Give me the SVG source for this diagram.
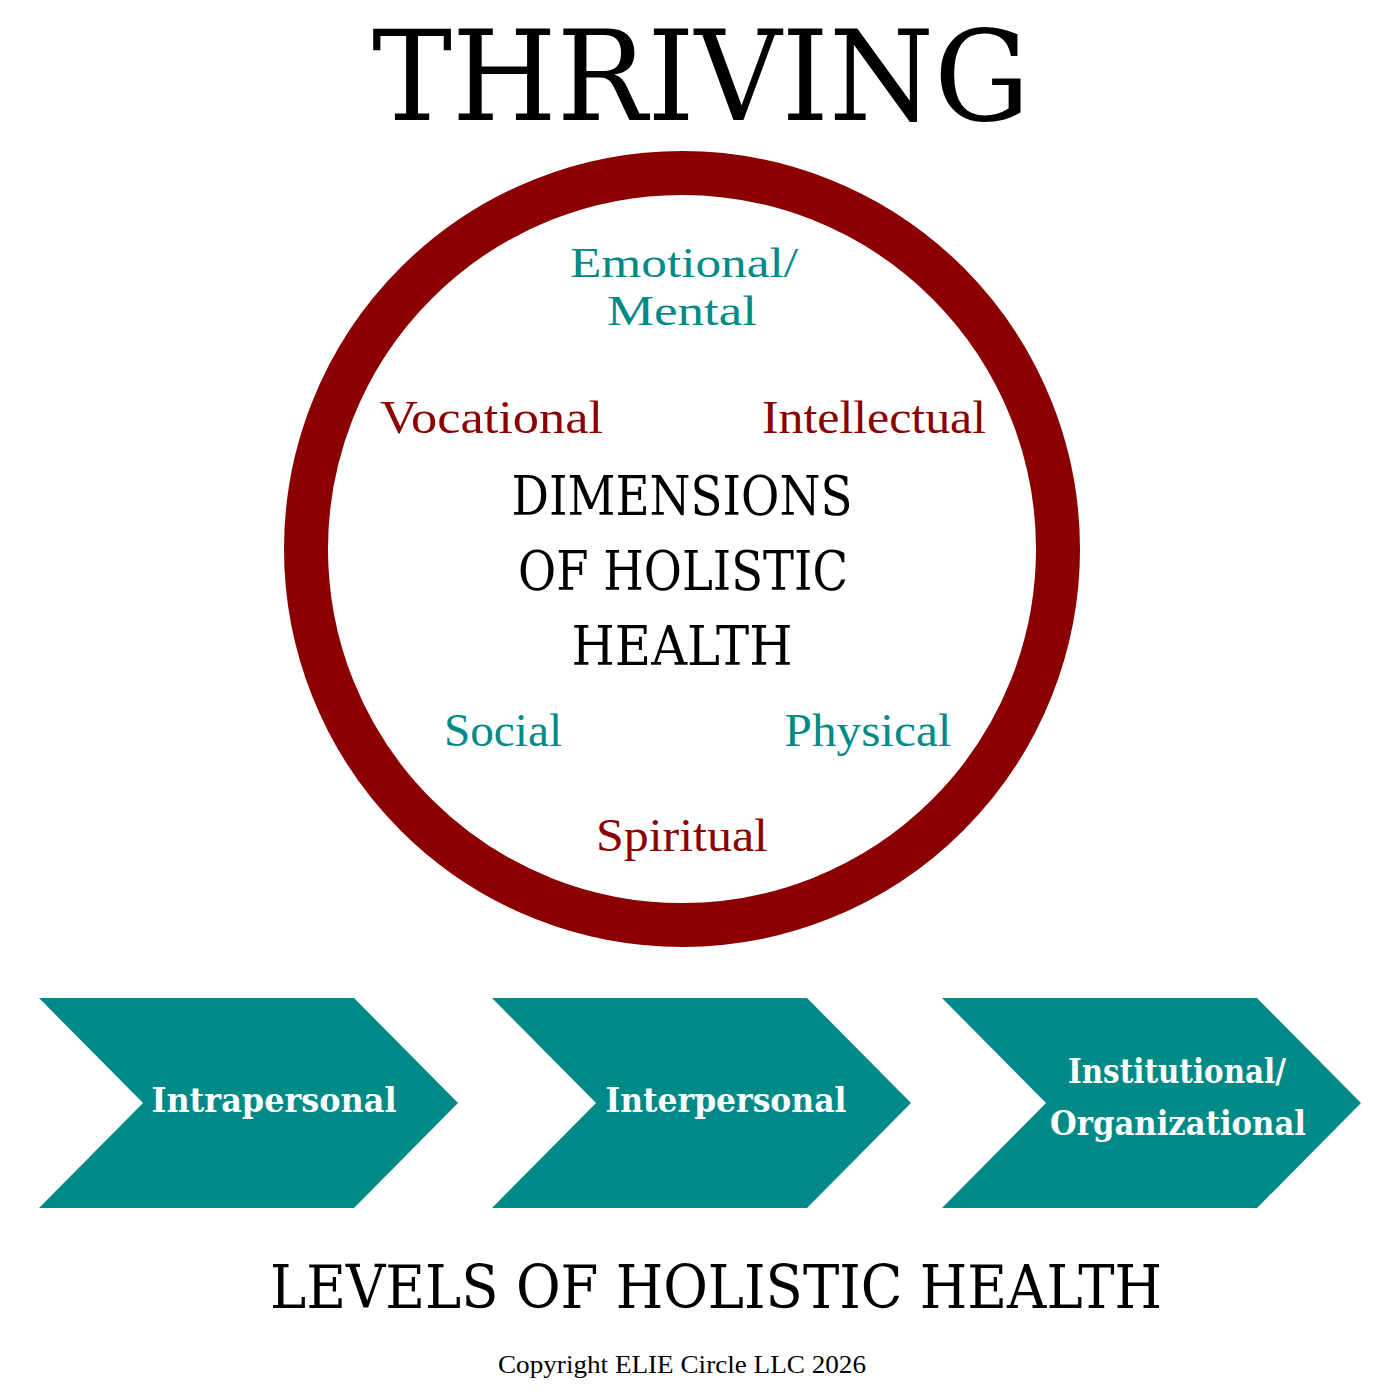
<svg xmlns="http://www.w3.org/2000/svg" width="1400" height="1400" viewBox="0 0 1400 1400">
<style>
.title{font-family:"DejaVu Serif","Liberation Serif",serif;font-weight:normal;fill:#000;text-anchor:middle}
.mid{font-family:"DejaVu Serif","Liberation Serif",serif;font-weight:normal;fill:#000;text-anchor:middle}
.thin{font-family:"Liberation Serif","DejaVu Serif",serif;font-weight:normal;text-anchor:middle}
.teal{fill:#008a87}
.red{fill:#8b0000}
.chev{fill:#008a87}
.chevtxt{font-family:"DejaVu Serif","Liberation Serif",serif;font-weight:bold;fill:#fff;text-anchor:middle;font-size:34px}
</style>
<rect width="1400" height="1400" fill="#fff"/>
<g id="title">
<text class="title" x="701" y="120" font-size="126" textLength="658" lengthAdjust="spacingAndGlyphs">THRIVING</text>
</g>
<g id="ring">
<circle cx="682" cy="549" r="376" fill="none" stroke="#8b0000" stroke-width="44"/>
</g>
<g id="center-label">
<text class="mid" x="682" y="515" font-size="55" textLength="341" lengthAdjust="spacingAndGlyphs">DIMENSIONS</text>
<text class="mid" x="683" y="590" font-size="55" textLength="330" lengthAdjust="spacingAndGlyphs">OF HOLISTIC</text>
<text class="mid" x="682" y="665" font-size="55" textLength="221" lengthAdjust="spacingAndGlyphs">HEALTH</text>
</g>
<g id="dim-emotional">
<text class="thin teal" x="684" y="277" font-size="42" textLength="228" lengthAdjust="spacingAndGlyphs">Emotional/</text>
<text class="thin teal" x="682" y="325" font-size="42" textLength="150" lengthAdjust="spacingAndGlyphs">Mental</text>
</g>
<g id="dim-vocational">
<text class="thin red" x="491.5" y="433" font-size="46" textLength="223" lengthAdjust="spacingAndGlyphs">Vocational</text>
</g>
<g id="dim-intellectual">
<text class="thin red" x="874" y="433" font-size="46" textLength="224" lengthAdjust="spacingAndGlyphs">Intellectual</text>
</g>
<g id="dim-social">
<text class="thin teal" x="503" y="746" font-size="46" textLength="118" lengthAdjust="spacingAndGlyphs">Social</text>
</g>
<g id="dim-physical">
<text class="thin teal" x="868" y="746" font-size="46" textLength="167" lengthAdjust="spacingAndGlyphs">Physical</text>
</g>
<g id="dim-spiritual">
<text class="thin red" x="682" y="851" font-size="46" textLength="172" lengthAdjust="spacingAndGlyphs">Spiritual</text>
</g>
<g id="connectors"></g>
<g id="level-intrapersonal">
<polygon class="chev" points="39,998 354,998 458,1103 354,1208 39,1208 143,1103"/>
<text class="chevtxt" x="274" y="1112" textLength="245" lengthAdjust="spacingAndGlyphs">Intrapersonal</text>
</g>
<g id="level-interpersonal">
<polygon class="chev" points="492,998 807,998 911,1103 807,1208 492,1208 596,1103"/>
<text class="chevtxt" x="726" y="1112" textLength="241" lengthAdjust="spacingAndGlyphs">Interpersonal</text>
</g>
<g id="level-institutional">
<polygon class="chev" points="942,998 1257,998 1361,1103 1257,1208 942,1208 1046,1103"/>
<text class="chevtxt" x="1177" y="1083" textLength="218" lengthAdjust="spacingAndGlyphs">Institutional/</text>
<text class="chevtxt" x="1178" y="1135" textLength="256" lengthAdjust="spacingAndGlyphs">Organizational</text>
</g>
<g id="footer">
<text class="mid" x="716" y="1308" font-size="59" textLength="892" lengthAdjust="spacingAndGlyphs">LEVELS OF HOLISTIC HEALTH</text>
<text class="thin" x="682" y="1373" font-size="26" fill="#000" textLength="368" lengthAdjust="spacingAndGlyphs">Copyright ELIE Circle LLC 2026</text>
</g>
</svg>
